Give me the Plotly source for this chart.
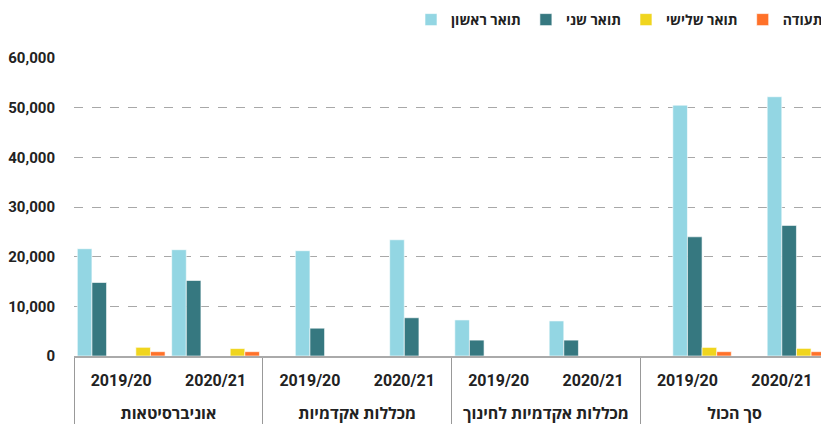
import plotly.graph_objects as go

groups = ["אוניברסיטאות", "אוניברסיטאות", "מכללות אקדמיות", "מכללות אקדמיות",
          "מכללות אקדמיות לחינוך", "מכללות אקדמיות לחינוך", "סך הכול", "סך הכול"]
years = ["2019/20", "2020/21"] * 4

# series as drawn (first/second pair of positions inside each slot)
bachelor_a = [21600, 21400, None, None, 7260, 7060, None, None]
master_a = [14800, 15200, None, None, 3200, 3200, None, None]
bachelor_b = [None, None, 21200, 23400, None, None, 50500, 52200]
master_b = [None, None, 5600, 7700, None, None, 24000, 26300]
phd = [1750, 1500, None, None, None, None, 1730, 1530]
certificate = [870, 870, None, None, None, None, 870, 870]

names = ["תואר ראשון", "תואר שני", "תואר שלישי", "תעודה"]
colors = ["#93d6e3", "#367880", "#f0d51e", "#ff7129"]

x = [["<br>" + g for g in groups], years]
fig = go.Figure()
traces = [
    (bachelor_a, 0, True),
    (master_a, 1, True),
    (bachelor_b, 0, False),
    (master_b, 1, False),
    (phd, 2, True),
    (certificate, 3, True),
]
for vals, idx, show in traces:
    fig.add_trace(go.Bar(
        x=x, y=vals, name=names[idx], legendgroup=names[idx], showlegend=show,
        marker=dict(color=colors[idx], line=dict(color="rgba(255,255,255,0.6)", width=1)),
    ))

W, H = 829, 428
OFF = 8  # page body margin
fig.update_layout(
    width=W, height=H,
    margin=dict(l=74 - OFF, r=OFF, t=58 - OFF, b=H - (356 - OFF), autoexpand=False),
    barmode="group", bargap=0.07, bargroupgap=0,
    plot_bgcolor="white", paper_bgcolor="white",
    font=dict(family="Roboto, 'Open Sans', sans-serif", color="#222"),
    legend=dict(orientation="h", xref="container", yref="container",
                x=(828 - OFF) / W, xanchor="right", y=1 - (20 - OFF) / H, yanchor="middle",
                font=dict(size=14, weight="bold"), traceorder="normal"),
)
fig.update_yaxes(range=[0, 60000], dtick=10000, tickformat=",d", automargin=False,
                 showgrid=True, gridcolor="#a8a8a8", griddash="dash", gridwidth=1,
                 zeroline=False, showline=False,
                 tickfont=dict(size=15, weight="bold", color="#222"),
                 ticklabelstandoff=18)
fig.update_xaxes(showline=True, linecolor="#aaaaaa", linewidth=2, automargin=False,
                 showdividers=True, dividercolor="#999999", dividerwidth=1,
                 tickfont=dict(size=16, weight="bold", color="#222"),
                 ticklabelstandoff=9)

fig.write_html("out.html")
